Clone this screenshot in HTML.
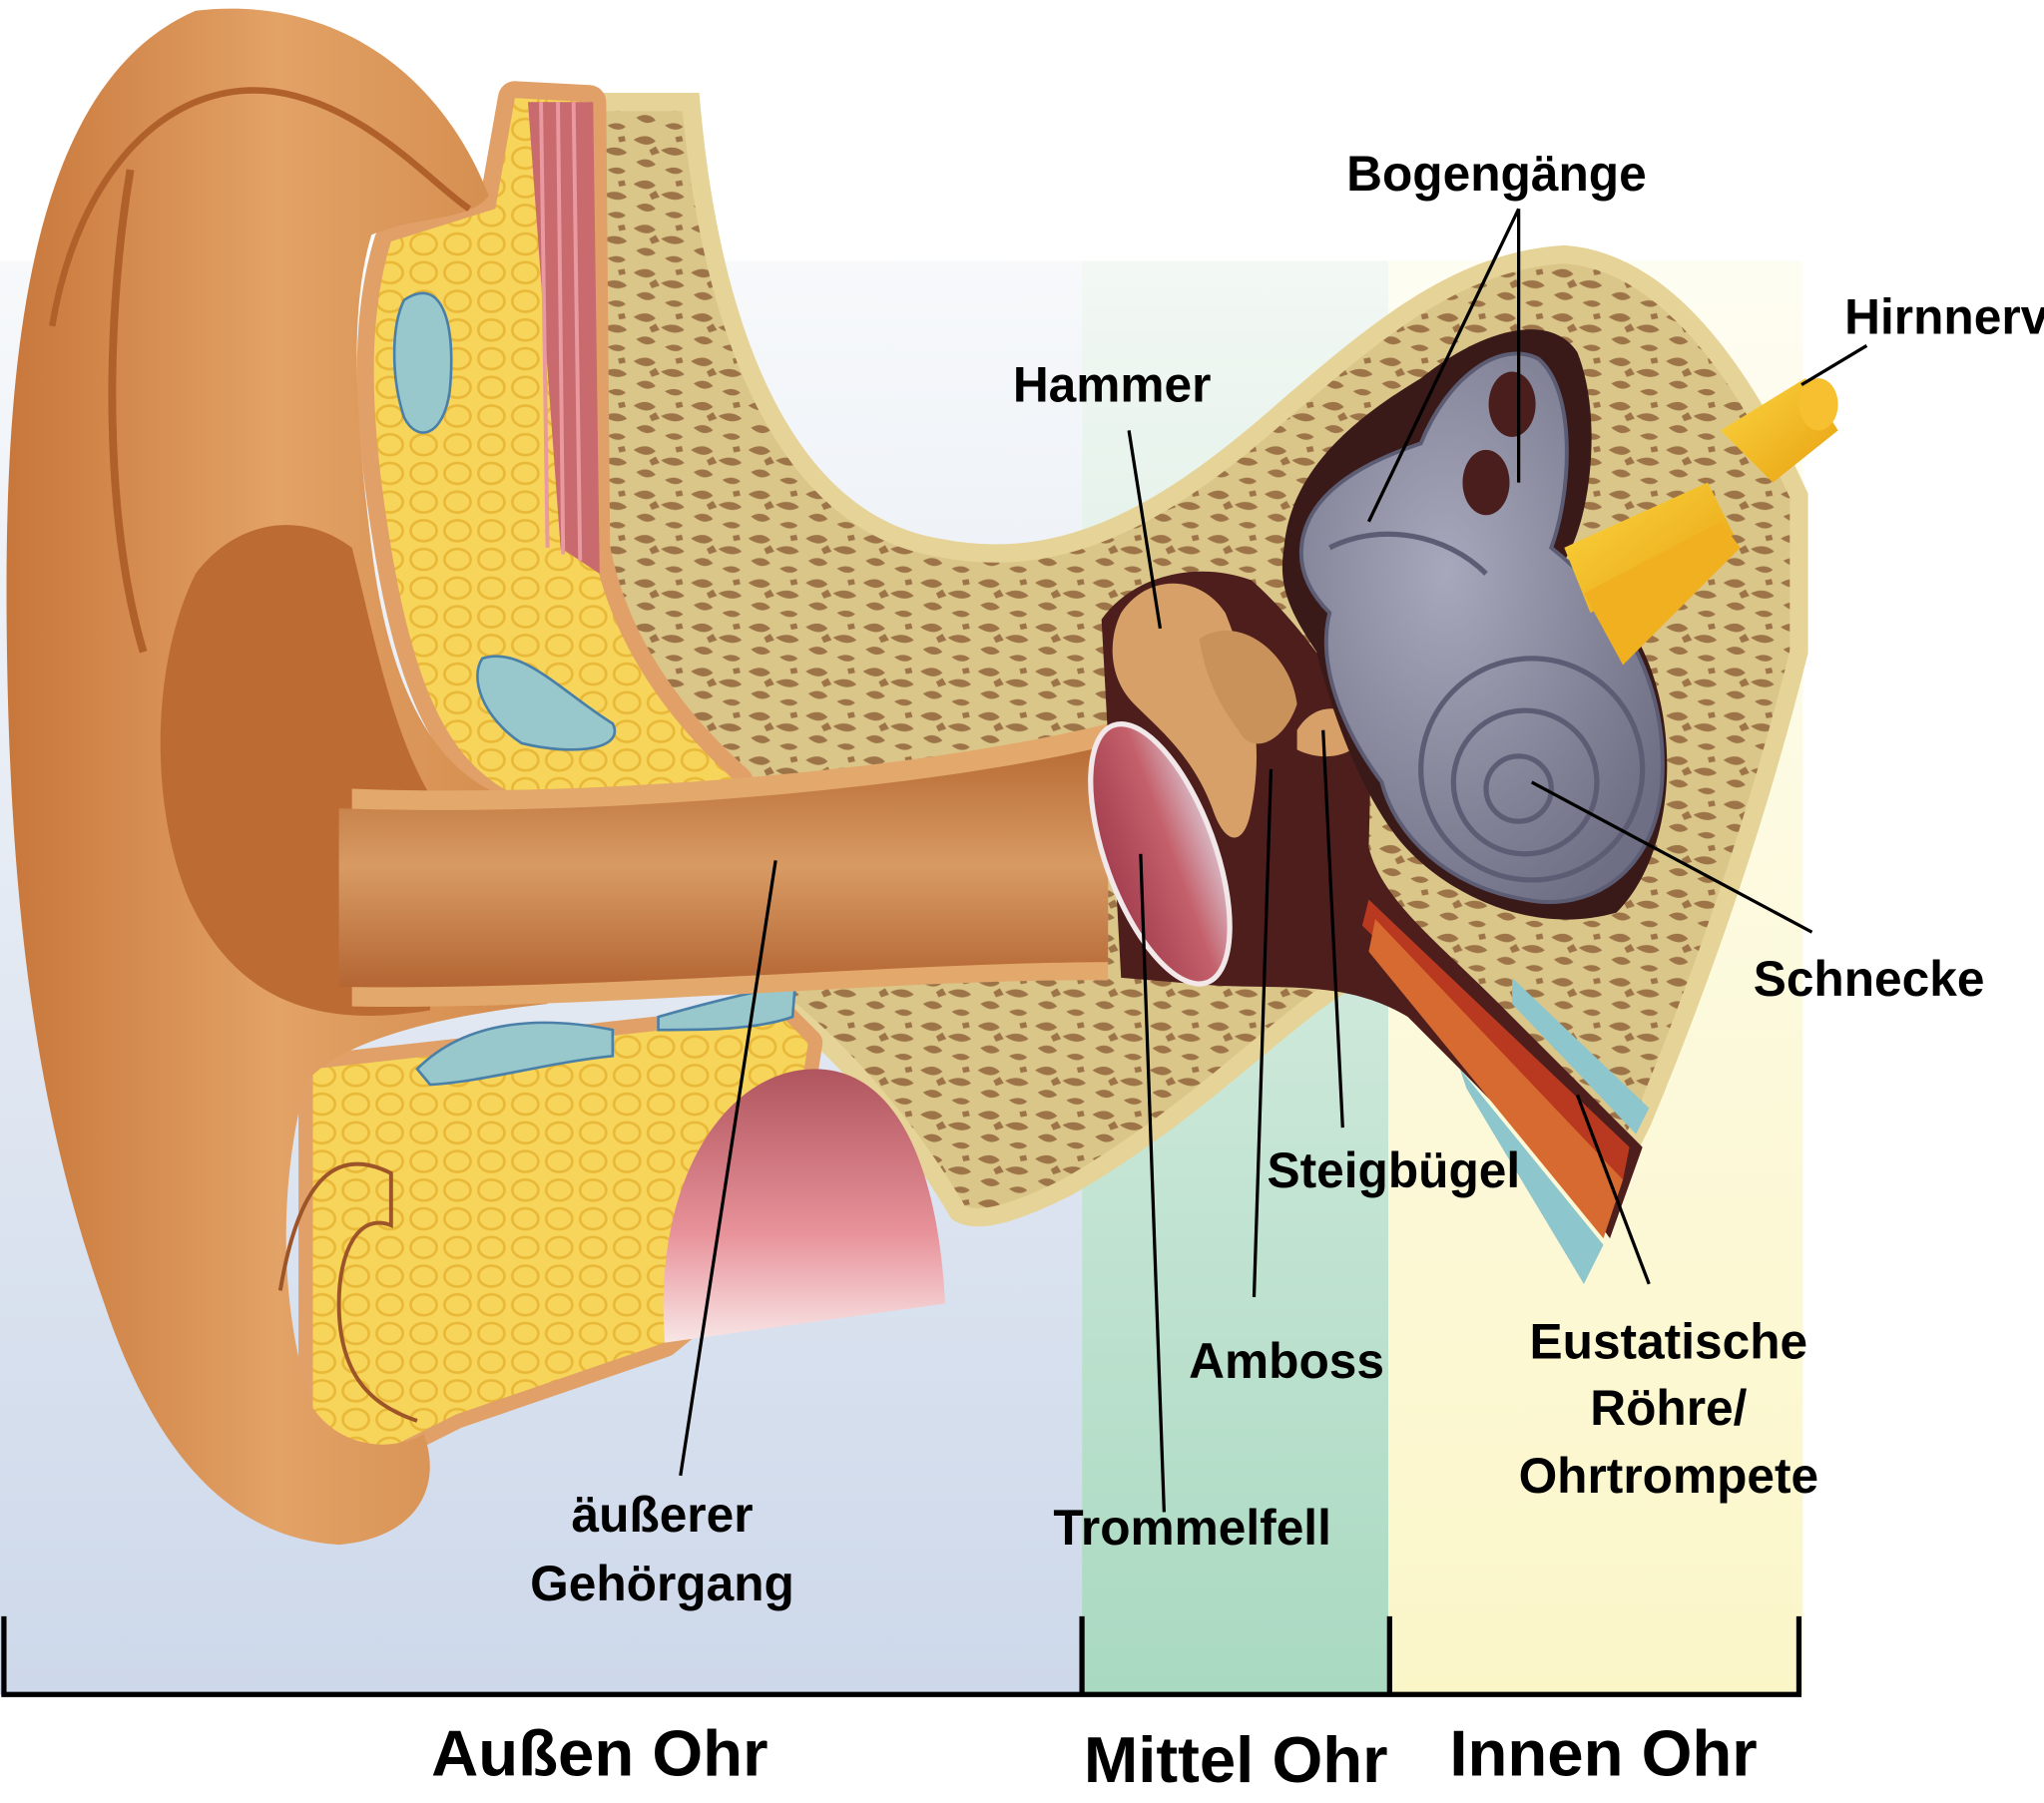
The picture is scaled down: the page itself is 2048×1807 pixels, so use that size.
<!DOCTYPE html>
<html><head><meta charset="utf-8"><style>
html,body{margin:0;padding:0;background:#fff;}
svg{display:block;}
text{font-family:"Liberation Sans",sans-serif;font-weight:600;fill:#000;}
</style></head><body>
<svg width="2048" height="1807" viewBox="0 0 1568 1383" xmlns="http://www.w3.org/2000/svg">
<defs>
<linearGradient id="bgA" x1="0" y1="0" x2="0" y2="1"><stop offset="0" stop-color="#f7f9fb"/><stop offset="1" stop-color="#cdd8ea"/></linearGradient>
<linearGradient id="bgM" x1="0" y1="0" x2="0" y2="1"><stop offset="0" stop-color="#f3f8f4"/><stop offset="1" stop-color="#a9d9c1"/></linearGradient>
<linearGradient id="bgI" x1="0" y1="0" x2="0" y2="1"><stop offset="0" stop-color="#fefdf2"/><stop offset="1" stop-color="#fbf6c8"/></linearGradient>
<linearGradient id="pinna" x1="0" y1="0" x2="1" y2="0"><stop offset="0" stop-color="#c8773b"/><stop offset="0.5" stop-color="#e3a266"/><stop offset="1" stop-color="#d28a4b"/></linearGradient>
<linearGradient id="canal" x1="0" y1="0" x2="0" y2="1"><stop offset="0" stop-color="#b86c35"/><stop offset="0.5" stop-color="#d89a63"/><stop offset="1" stop-color="#b46633"/></linearGradient>
<linearGradient id="pink" x1="0" y1="0" x2="0" y2="1"><stop offset="0" stop-color="#b0555e"/><stop offset="0.6" stop-color="#e8929a"/><stop offset="1" stop-color="#f8e6e6"/></linearGradient>
<linearGradient id="drum" x1="0" y1="0" x2="1" y2="0"><stop offset="0" stop-color="#a44050"/><stop offset="0.6" stop-color="#c4606a"/><stop offset="1" stop-color="#d8b8c4"/></linearGradient>
<linearGradient id="nerve" x1="0" y1="0" x2="1" y2="1"><stop offset="0" stop-color="#fbd640"/><stop offset="1" stop-color="#e8a010"/></linearGradient>
<radialGradient id="gray" cx="0.4" cy="0.4" r="0.7"><stop offset="0" stop-color="#a8a8bc"/><stop offset="1" stop-color="#6e6e84"/></radialGradient>
<pattern id="bone" width="44" height="34" patternUnits="userSpaceOnUse">
<rect width="44" height="34" fill="#dbc68a"/>
<path d="M2,5 q10,-6 17,1 q-7,6 -17,-1z M23,13 q11,-5 18,2 q-8,5 -18,-2z M4,22 q9,-5 15,2 q-7,5 -15,-2z M26,28 q8,-4 14,1 q-6,5 -14,-1z M14,13 l5,-3 l3,5 l-6,2z M34,3 l5,-1 l1,4 l-5,1z" fill="#9c7448"/>
</pattern>
<pattern id="fat" width="26" height="22" patternUnits="userSpaceOnUse">
<rect width="26" height="22" fill="#f6d55a"/>
<ellipse cx="13" cy="11" rx="10" ry="8" fill="none" stroke="#e9b838" stroke-width="2"/>
</pattern>
</defs>
<rect x="0" y="200" width="830" height="1100" fill="url(#bgA)"/>
<rect x="830" y="200" width="235" height="1100" fill="url(#bgM)"/>
<rect x="1065" y="200" width="318" height="1100" fill="url(#bgI)"/>

<!-- bone -->
<path d="M450,78 L530,78 C545,250 600,400 720,420 C820,440 900,390 990,310 C1060,250 1120,200 1200,195 C1270,200 1330,270 1380,380 L1380,500 C1350,620 1310,740 1260,860 L1240,900 C1180,830 1120,770 1060,740 C1000,760 940,840 820,910 C780,930 750,940 735,930 C700,870 650,810 600,770 L560,600 C500,560 460,480 450,400 Z" fill="url(#bone)" stroke="#e6d397" stroke-width="14"/>

<!-- upper fat with orange border -->
<path d="M395,75 L452,78 L455,420 C470,500 520,560 565,600 L400,612 C350,590 320,540 300,420 C285,330 280,250 300,185 L380,160 Z" fill="#e0a067" stroke="#e0a067" stroke-width="26" stroke-linejoin="round"/>
<path d="M395,75 L452,78 L455,420 C470,500 520,560 565,600 L400,612 C350,590 320,540 300,420 C285,330 280,250 300,185 L380,160 Z" fill="url(#fat)"/>
<path d="M405,78 L455,78 L460,440 L430,420 Z" fill="#c96b6e"/>
<path d="M415,78 L420,420 M428,78 L432,425 M440,78 L445,430" stroke="#e89aa0" stroke-width="3"/>
<path d="M310,230 C340,210 350,250 345,300 C340,335 320,340 310,320 C300,290 300,250 310,230Z" fill="#98c8cc" stroke="#4a7fa8" stroke-width="2"/>
<path d="M370,505 C400,495 430,530 470,555 C480,575 440,580 400,570 C370,550 360,520 370,505Z" fill="#98c8cc" stroke="#4a7fa8" stroke-width="2"/>

<!-- lower fat -->
<path d="M240,820 L600,780 L620,800 L595,960 L510,1030 L350,1085 L300,1110 L240,1110 Z" fill="#e0a067" stroke="#e0a067" stroke-width="22" stroke-linejoin="round"/>
<path d="M240,820 L600,780 L620,800 L595,960 L510,1030 L350,1085 L300,1110 L240,1110 Z" fill="url(#fat)"/>
<path d="M320,820 C360,780 420,780 470,790 L470,810 C420,815 370,830 330,832Z" fill="#98c8cc" stroke="#4a7fa8" stroke-width="2"/>
<path d="M505,780 C540,770 580,760 610,755 L608,780 C580,790 540,790 505,790Z" fill="#98c8cc" stroke="#4a7fa8" stroke-width="2"/>
<path d="M510,1030 C500,900 560,820 625,820 C690,820 720,900 725,1000 Z" fill="url(#pink)"/>

<!-- pinna -->
<path d="M150,8 C260,-5 340,60 375,150 C360,170 320,165 285,180 C270,230 270,300 285,420 C300,540 340,600 400,615 L420,770 C330,780 260,800 235,830 C215,900 212,1000 240,1080 C260,1110 300,1115 325,1100 C340,1140 320,1180 260,1185 C180,1180 120,1120 80,1000 C30,860 5,700 5,450 C5,250 30,60 150,8Z" fill="url(#pinna)"/>
<path d="M40,250 C60,130 130,60 210,70 C280,80 330,140 360,160" fill="none" stroke="#b0602a" stroke-width="5"/>
<path d="M100,130 C80,250 80,400 110,500" fill="none" stroke="#b0602a" stroke-width="6"/>
<path d="M270,420 C230,390 180,400 150,440 C115,510 115,620 145,690 C180,765 240,790 330,775 L330,610 C300,560 285,480 270,420 Z" fill="#bc6c32"/>
<path d="M215,990 C230,900 260,880 300,900 L300,940 C275,930 260,960 260,1000 C260,1060 290,1080 320,1090" fill="none" stroke="#9c5428" stroke-width="3"/>

<!-- canal -->
<path d="M270,605 C450,612 700,592 850,555 L850,752 C700,750 450,775 270,772 Z" fill="#e3a86c"/>
<path d="M260,620 C450,627 700,607 850,572 L850,738 C700,738 450,760 260,757 Z" fill="url(#canal)"/>

<!-- middle ear cavity -->
<path d="M845,475 C870,440 920,430 960,445 C1000,480 1040,540 1052,570 L1050,650 C1060,690 1100,720 1150,770 L1260,880 L1235,950 C1200,900 1150,850 1080,780 C1030,750 980,760 920,755 L860,750 Z" fill="#4d1e1c"/>
<path d="M1050,690 L1250,880 L1245,905 L1045,710Z" fill="#b83820"/>
<path d="M1055,705 L1245,905 L1230,950 L1050,730Z" fill="#d66a30"/>
<path d="M1120,820 L1230,955 L1215,985 L1125,835Z" fill="#8dc6cc"/>
<path d="M1160,750 L1265,850 L1255,870 L1160,770Z" fill="#8dc6cc"/>

<path d="M860,470 C880,440 920,440 940,470 C960,520 970,570 960,620 C955,650 940,650 930,620 C915,580 890,560 870,540 C850,520 850,490 860,470Z" fill="#d6a068"/>
<path d="M920,490 C950,470 990,500 995,540 C985,570 960,580 950,560 C935,540 925,520 920,490Z" fill="#c8925a"/>
<path d="M995,560 C1010,535 1040,540 1045,565 C1040,580 1015,585 995,575Z" fill="#d6a068"/>
<ellipse cx="890" cy="655" rx="42" ry="105" transform="rotate(-20 890 655)" fill="url(#drum)" stroke="#f2e8ea" stroke-width="4"/>

<!-- inner ear -->
<path d="M985,420 C990,360 1040,320 1090,290 C1140,250 1190,240 1210,270 C1230,320 1220,400 1200,430 L1250,480 C1290,540 1290,650 1240,700 C1170,720 1100,680 1070,640 C1040,600 1020,540 1010,500 C990,470 980,450 985,420Z" fill="#3a1a18"/>
<path d="M1000,410 C1010,370 1060,350 1090,340 C1110,290 1150,260 1180,275 C1210,300 1205,380 1190,420 C1240,460 1280,520 1275,600 C1270,670 1220,700 1170,690 C1110,680 1070,640 1060,600 C1030,560 1010,510 1020,470 C1000,450 995,430 1000,410Z" fill="url(#gray)" stroke="#5c5c74" stroke-width="3"/>
<circle cx="1175" cy="590" r="85" fill="none" stroke="#5c5c74" stroke-width="4"/>
<circle cx="1170" cy="600" r="55" fill="none" stroke="#5c5c74" stroke-width="4"/>
<circle cx="1165" cy="605" r="25" fill="none" stroke="#5c5c74" stroke-width="4"/>
<ellipse cx="1160" cy="310" rx="18" ry="25" fill="#4a1e1c"/>
<ellipse cx="1140" cy="370" rx="18" ry="25" fill="#4a1e1c"/>
<path d="M1020,420 C1060,400 1110,410 1140,440" fill="none" stroke="#5c5c74" stroke-width="4"/>

<path d="M1200,420 L1310,370 L1330,410 L1220,470Z" fill="url(#nerve)"/>
<path d="M1215,455 L1320,400 L1335,420 L1245,510Z" fill="#f0b020"/>
<path d="M1320,330 L1385,290 L1410,330 L1360,370 Z" fill="url(#nerve)"/>
<ellipse cx="1395" cy="310" rx="15" ry="20" fill="#f6c030"/>

<g stroke="#000" stroke-width="2.5" fill="none">
<path d="M1165,160 L1050,400 M1165,160 L1165,370"/>
<path d="M866,330 L890,482"/>
<path d="M1432,265 L1382,295"/>
<path d="M1390,715 L1175,600"/>
<path d="M1030,865 L1015,560"/>
<path d="M962,995 L975,590"/>
<path d="M893,1160 L875,655"/>
<path d="M1265,985 L1210,840"/>
<path d="M522,1132 L595,660"/>
</g>

<g font-size="38">
<text x="1148" y="146" text-anchor="middle">Bogengänge</text>
<text x="853" y="308" text-anchor="middle">Hammer</text>
<text x="1415" y="256">Hirnnerv</text>
<text x="1345" y="764">Schnecke</text>
<text x="972" y="911">Steigbügel</text>
<text x="912" y="1057">Amboss</text>
<text x="808" y="1185">Trommelfell</text>
<text x="1280" y="1042" text-anchor="middle">Eustatische</text>
<text x="1280" y="1093" text-anchor="middle">Röhre/</text>
<text x="1280" y="1145" text-anchor="middle">Ohrtrompete</text>
<text x="508" y="1175" text-anchor="middle">äußerer</text>
<text x="508" y="1228" text-anchor="middle">Gehörgang</text>
</g>

<path d="M3,1240 L3,1300 L1380,1300 L1380,1240 M830,1240 L830,1300 M1066,1240 L1066,1300" stroke="#000" stroke-width="4" fill="none"/>
<g font-size="50">
<text x="460" y="1362" text-anchor="middle" style="font-weight:700">Außen Ohr</text>
<text x="948" y="1367" text-anchor="middle" style="font-weight:700">Mittel Ohr</text>
<text x="1230" y="1362" text-anchor="middle" style="font-weight:700">Innen Ohr</text>
</g>
</svg>
</body></html>
